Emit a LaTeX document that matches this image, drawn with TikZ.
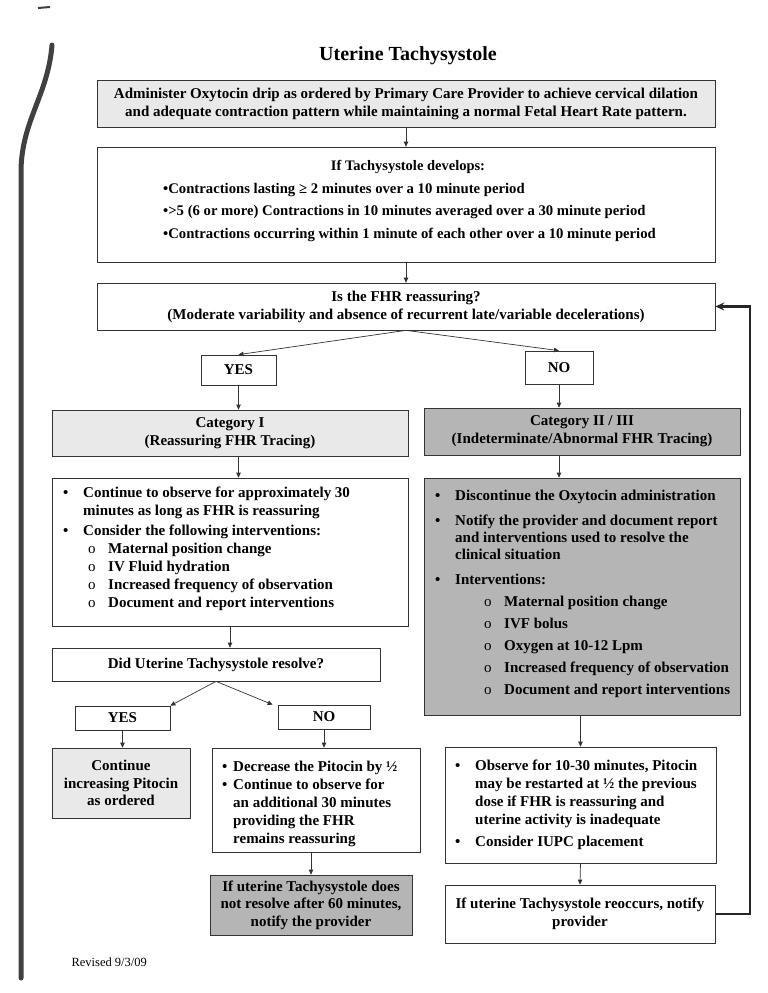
\documentclass[tikz,border=0pt]{standalone}
\usepackage{fontspec}
\setmainfont{Liberation Serif}
\usetikzlibrary{arrows.meta}
\newcommand{\bul}{\makebox[20pt][l]{\textbullet}}
\newcommand{\cont}{\hspace*{20pt}}
\newcommand{\sub}{\hspace*{25pt}\makebox[20pt][l]{\normalfont o}}
\newcommand{\bsm}{\makebox[11pt][l]{\textbullet}}
\newcommand{\csm}{\hspace*{11pt}}
\begin{document}
\begin{tikzpicture}[x=1pt,y=-1pt,
  box/.style={draw=black!80, line width=0.7pt, inner sep=0pt, anchor=center},
  lgray/.style={fill=gray!17},
  dgray/.style={fill=gray!58},
  arr/.style={-{Triangle[length=5pt,width=4.5pt]}, line width=0.7pt, draw=black!80},
  txt/.style={font=\bfseries\fontsize{15}{18}\selectfont, align=center},
  ltxt/.style={font=\bfseries\fontsize{15}{18}\selectfont, align=left, inner sep=0pt, anchor=north west}
]
\useasboundingbox (0,0) rectangle (768,993);
% scan binding artifact
\draw[line width=5pt, black!75, line cap=round] (21,978) -- (21,170) .. controls (22,120) and (48,95) .. (52,45);
\draw[line width=2pt, black!75] (38,8) -- (50,7);

\node[font=\bfseries\fontsize{20}{24}\selectfont] (title) at (408,56) {Uterine Tachysystole};

\node[box, lgray, minimum width=618pt, minimum height=47pt, txt] (b1) at (406,103.5)
 {Administer Oxytocin drip as ordered by Primary Care Provider to achieve cervical dilation\\
  and adequate contraction pattern while maintaining a normal Fetal Heart Rate pattern.};

\node[box, minimum width=618pt, minimum height=115pt] (b2) at (406,204.5) {};
\node[font=\bfseries\fontsize{14.5}{17}\selectfont] (b2h) at (408,167) {If Tachysystole develops:};
\node[font=\bfseries\fontsize{14.7}{22.5}\selectfont, align=left, inner sep=0pt, anchor=north west] (b2l) at (163,183)
 {\textbullet Contractions lasting ≥ 2 minutes over a 10 minute period\\
  \textbullet>5 (6 or more) Contractions in 10 minutes averaged over a 30 minute period\\
  \textbullet Contractions occurring within 1 minute of each other over a 10 minute period};

\node[box, minimum width=618pt, minimum height=47pt, txt] (b3) at (406,306.5)
 {Is the FHR reassuring?\\
  (Moderate variability and absence of recurrent late/variable decelerations)};

\node[box, minimum width=75pt, minimum height=30pt, txt] (yes1) at (238.5,370) {YES};
\node[box, minimum width=68pt, minimum height=33pt, txt] (no1) at (559,367.5) {NO};

\node[box, lgray, minimum width=356pt, minimum height=46pt, txt] (cat1) at (230,433)
 {Category I\\(Reassuring FHR Tracing)};
\node[box, dgray, minimum width=316pt, minimum height=47pt, txt] (cat2) at (582,431.5)
 {Category II / III\\(Indeterminate/Abnormal FHR Tracing)};

\node[box, minimum width=356pt, minimum height=148pt] (l1) at (230,552) {};
\node[ltxt] (l1t) at (63,487)
 {\bul Continue to observe for approximately 30\\
  \cont minutes as long as FHR is reassuring\\[2pt]
  \bul Consider the following interventions:\\
  \sub Maternal position change\\
  \sub IV Fluid hydration\\
  \sub Increased frequency of observation\\
  \sub Document and report interventions};

\node[box, dgray, minimum width=316pt, minimum height=237pt] (r1) at (582,596.5) {};
\node[ltxt, font=\bfseries\fontsize{15}{17}\selectfont] (r1t) at (435,490)
 {\bul Discontinue the Oxytocin administration\\[8pt]
  \bul Notify the provider and document report\\
  \cont and interventions used to resolve the\\
  \cont clinical situation\\[8pt]
  \bul Interventions:\\[5pt]
  \hspace*{24pt}\sub Maternal position change\\[5pt]
  \hspace*{24pt}\sub IVF bolus\\[5pt]
  \hspace*{24pt}\sub Oxygen at 10-12 Lpm\\[5pt]
  \hspace*{24pt}\sub Increased frequency of observation\\[5pt]
  \hspace*{24pt}\sub Document and report interventions};

\node[box, minimum width=328pt, minimum height=33pt, txt] (res) at (216,664.5) {Did Uterine Tachysystole resolve?};

\node[box, minimum width=95pt, minimum height=24pt, txt] (yes2) at (122.5,718) {YES};
\node[box, minimum width=92pt, minimum height=24pt, txt] (no2) at (324,717) {NO};

\node[box, lgray, minimum width=138pt, minimum height=70pt, txt, font=\bfseries\fontsize{15}{17.5}\selectfont] (cont) at (121,783)
 {Continue\\increasing Pitocin\\as ordered};

\node[box, minimum width=208pt, minimum height=104pt] (dec) at (316,800) {};
\node[ltxt] (dect) at (222,761)
 {\bsm Decrease the Pitocin by ½\\
  \bsm Continue to observe for\\
  \csm an additional 30 minutes\\
  \csm providing the FHR\\
  \csm remains reassuring};

\node[box, dgray, minimum width=202pt, minimum height=60pt, txt, font=\bfseries\fontsize{15}{17.5}\selectfont] (nores) at (311,905)
 {If uterine Tachysystole does\\not resolve after 60 minutes,\\notify the provider};

\node[box, minimum width=271pt, minimum height=116pt] (obs) at (580.5,805) {};
\node[ltxt] (obst) at (455,760)
 {\bul Observe for 10-30 minutes, Pitocin\\
  \cont may be restarted at ½ the previous\\
  \cont dose if FHR is reassuring and\\
  \cont uterine activity is inadequate\\[4pt]
  \bul Consider IUPC placement};

\node[box, minimum width=270pt, minimum height=58pt, txt] (reo) at (580,914)
 {If uterine Tachysystole reoccurs, notify\\provider};

\node[font=\fontsize{12.5}{15}\selectfont, anchor=west] (rev) at (68,962) {Revised 9/3/09};

% connectors
\draw[arr] (b1.south) -- (b2.north);
\draw[arr] (b2.south) -- (b3.north);
\draw[arr] (b3.south) -- (yes1.north);
\draw[arr] (b3.south) -- (no1.north);
\draw[arr] (yes1.south) -- (yes1.south |- cat1.north);
\draw[arr] (no1.south) -- (no1.south |- cat2.north);
\draw[arr] (yes1.south |- cat1.south) -- (yes1.south |- l1.north);
\draw[arr] (no1.south |- cat2.south) -- (no1.south |- r1.north);
\draw[arr] (l1.south) -- (res.north -| l1.south);
\draw[arr] (res.south) -- (yes2.north east);
\draw[arr] (res.south) -- ([xshift=-5pt]no2.north west);
\draw[arr] (yes2.south) -- (yes2.south |- cont.north);
\draw[arr] (no2.south) -- (no2.south |- dec.north);
\draw[arr] (dec.south -| nores.north) -- (nores.north);
\draw[arr] (r1.south -| obs.north) -- (obs.north);
\draw[arr] (obs.south) -- (reo.north);
\coordinate (fb) at (750,0);
\draw[line width=2.5pt, black!85, -{Stealth[length=9pt,width=8pt]}] (reo.east) -- (reo.east -| fb) |- (b3.east);
\end{tikzpicture}
\end{document}
